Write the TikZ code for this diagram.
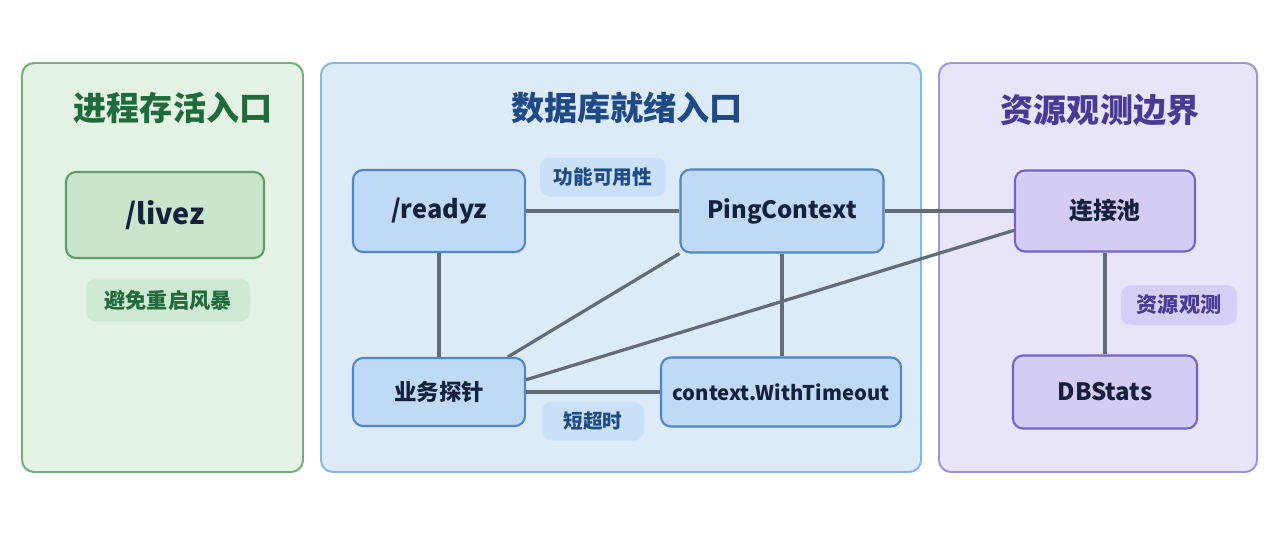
\documentclass[tikz,border=0pt]{standalone}
\usepackage{fontspec}
\setmainfont{Noto Sans CJK SC}
\pgfdeclarelayer{panels}
\pgfdeclarelayer{edges}
\pgfsetlayers{panels,edges,main}
\definecolor{greenbg}{HTML}{E4F2E4}
\definecolor{greenedge}{HTML}{72AE78}
\definecolor{greenbox}{HTML}{C9E5CC}
\definecolor{greenline}{HTML}{5C9E64}
\definecolor{greentag}{HTML}{CFE8D3}
\definecolor{greenink}{HTML}{1F6B3C}
\definecolor{bluebg}{HTML}{DDEBF9}
\definecolor{blueedge}{HTML}{88B5E4}
\definecolor{bluebox}{HTML}{BFD9F6}
\definecolor{blueline}{HTML}{4F86C6}
\definecolor{bluetag}{HTML}{C9E0F7}
\definecolor{blueink}{HTML}{1E4A86}
\definecolor{purplebg}{HTML}{E8E5FA}
\definecolor{purpleedge}{HTML}{A192DC}
\definecolor{purplebox}{HTML}{D4CCF5}
\definecolor{purpleline}{HTML}{7562C6}
\definecolor{purpletag}{HTML}{D6CEF5}
\definecolor{purpleink}{HTML}{4A3A95}
\definecolor{nodeink}{HTML}{14213D}
\definecolor{linkgray}{HTML}{626C76}
\begin{document}
\begin{tikzpicture}[x=0.025cm, y=-0.025cm,
  panel/.style={rounded corners=0.3cm, line width=1.4pt},
  title/.style={font=\fontsize{23.5}{27}\selectfont\bfseries},
  card/.style 2 args={rounded corners=0.25cm, line width=1.5pt, inner sep=0pt,
    minimum width=#1*0.025cm, minimum height=#2*0.025cm, text=nodeink},
  tag/.style 2 args={rounded corners=0.25cm, inner sep=0pt,
    minimum width=#1*0.025cm, minimum height=#2*0.025cm,
    font=\fontsize{15}{18}\selectfont\bfseries},
  link/.style={draw=linkgray, line width=2.3pt}]
  \useasboundingbox (0,0) rectangle (1280,533);

  \begin{pgfonlayer}{panels}
    \fill[white] (0,0) rectangle (1280,533);
    \draw[panel, draw=greenedge, fill=greenbg] (22,63) rectangle (303,472);
    \draw[panel, draw=blueedge, fill=bluebg] (321,63) rectangle (921,472);
    \draw[panel, draw=purpleedge, fill=purplebg] (939,63) rectangle (1257,472);
  \end{pgfonlayer}

  \node[title, text=greenink] (livetitle) at (173,108) {进程存活入口};
  \node[title, text=blueink] (readytitle) at (627,108) {数据库就绪入口};
  \node[title, text=purpleink] (obstitle) at (1100,110) {资源观测边界};

  \node[card={198}{86}, draw=greenline, fill=greenbox, font=\fontsize{20.5}{25}\selectfont\bfseries] (livez) at (165,215) {/livez};
  \node[tag={164}{43}, fill=greentag, text=greenink] (storm) at (168,300) {避免重启风暴};

  \node[card={172}{82}, draw=blueline, fill=bluebox, font=\fontsize{18}{22}\selectfont\bfseries] (readyz) at (439,211) {/readyz};
  \node[card={203}{83}, draw=blueline, fill=bluebox, font=\fontsize{17}{21}\selectfont\bfseries] (ping) at (782,211) {PingContext};
  \node[card={172}{68}, draw=blueline, fill=bluebox, font=\fontsize{16}{20}\selectfont\bfseries] (probe) at (439,392) {业务探针};
  \node[card={240}{69}, draw=blueline, fill=bluebox, font=\fontsize{14.4}{18}\selectfont\bfseries] (timeout) at (781,392) {context.WithTimeout};
  \node[tag={126}{39}, fill=bluetag, text=blueink, font=\fontsize{14}{17}\selectfont\bfseries] (usable) at (603,177) {功能可用性};
  \node[tag={102}{39}, fill=bluetag, text=blueink, font=\fontsize{14}{17}\selectfont\bfseries] (short) at (593,421) {短超时};

  \node[card={180}{81}, draw=purpleline, fill=purplebox, font=\fontsize{17}{21}\selectfont\bfseries] (pool) at (1105,211) {连接池};
  \node[card={184}{73}, draw=purpleline, fill=purplebox, font=\fontsize{17}{21}\selectfont\bfseries] (dbstats) at (1105,392) {DBStats};
  \node[tag={116}{40}, fill=purpletag, text=purpleink] (watch) at (1179,305) {资源观测};

  \begin{pgfonlayer}{edges}
    \draw[link] (readyz) -- (ping);
    \draw[link] (readyz) -- (probe);
    \draw[link] (ping.south west) -- (probe.27);
    \draw[link] (ping.south) -- (ping.south |- timeout.north);
    \draw[link] (ping) -- (pool);
    \draw[link] (pool.192) -- (probe.8);
    \draw[link] (probe) -- (timeout);
    \draw[link] (pool) -- (dbstats);
  \end{pgfonlayer}
\end{tikzpicture}
\end{document}
